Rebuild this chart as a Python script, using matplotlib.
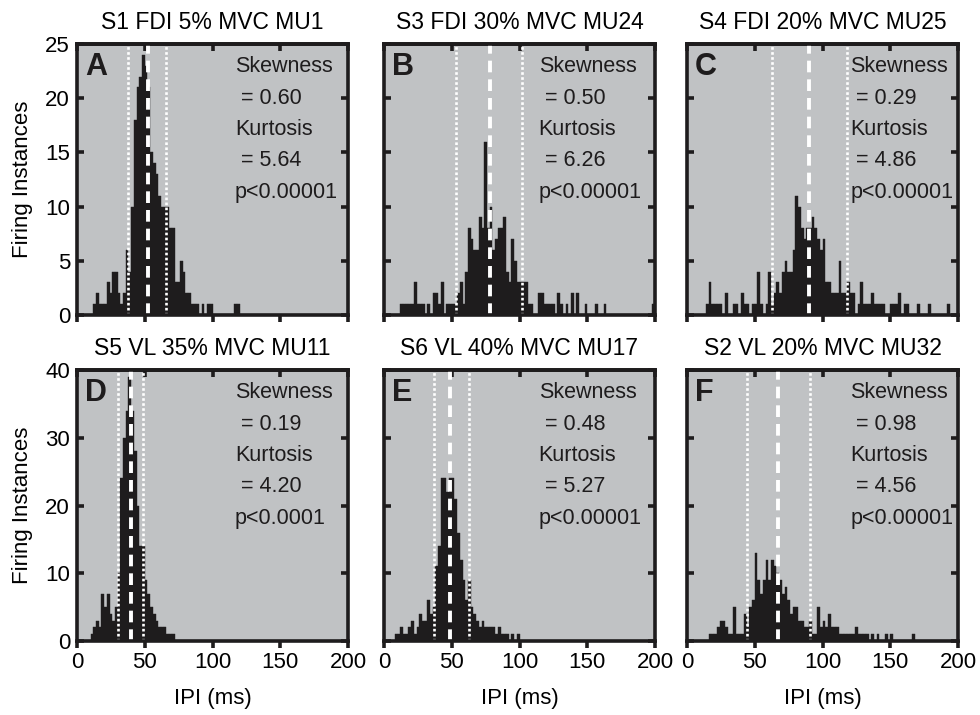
import numpy as np
import matplotlib
matplotlib.use('Agg')
from matplotlib import pyplot as plt

plt.rcParams['font.family'] = ['Liberation Sans', 'DejaVu Sans']

# panel info
titles = ['S1 FDI 5% MVC MU1', 'S3 FDI 30% MVC MU24', 'S4 FDI 20% MVC MU25',
          'S5 VL 35% MVC MU11', 'S6 VL 40% MVC MU17', 'S2 VL 20% MVC MU32']
letters = ['A', 'B', 'C', 'D', 'E', 'F']
skew = ['0.60', '0.50', '0.29', '0.19', '0.48', '0.98']
kurt = ['5.64', '6.26', '4.86', '4.20', '5.27', '4.56']
pvals = ['p<0.00001', 'p<0.00001', 'p<0.00001', 'p<0.0001', 'p<0.00001', 'p<0.00001']

# white reference lines (ms)
dot_lo = [38, 53, 63, 30.5, 37, 44]
dash_mid = [52.5, 78, 90, 40, 49, 67.5]
dot_hi = [66, 102, 118, 49, 62.5, 90.5]

# histogram counts, 2 ms bins, first bin edge in *_start
a_start = 12
a_counts = [1, 2, 1, 1, 1, 3, 2, 4, 4, 2,
            1, 2, 6, 4, 10, 18, 21, 22, 24, 23,
            21, 15, 14, 13, 11, 10, 10, 10, 8, 8,
            3, 3, 5, 4, 2, 2, 1, 1, 1, 0,
            1, 0, 1, 1, 0, 0, 0, 0, 0, 0,
            0, 0, 1, 1]
b_start = 12
b_counts = [1, 1, 1, 1, 1, 3, 1, 1, 1, 0,
            1, 0, 2, 2, 1, 3, 0, 1, 1, 1,
            1, 2, 3, 1, 4, 8, 7, 6, 6, 9,
            8, 16, 8, 10, 6, 7, 8, 8, 9, 4,
            3, 7, 5, 3, 3, 3, 3, 1, 1, 0,
            0, 2, 2, 1, 1, 1, 1, 0, 2, 1,
            0, 1, 0, 2, 0, 2, 0, 0, 1, 0,
            0, 0, 1, 0, 0, 1, 0, 0, 0, 0,
            0, 0, 0, 0, 0, 0, 0, 0, 0, 0,
            0, 0, 0, 1]
c_start = 14
c_counts = [1, 3, 1, 1, 1, 1, 0, 2, 0, 0,
            1, 1, 0, 2, 1, 1, 0, 1, 1, 4,
            1, 0, 1, 4, 1, 2, 3, 2, 4, 5,
            4, 4, 6, 11, 10, 8, 7, 8, 8, 9,
            8, 7, 6, 7, 3, 3, 2, 2, 2, 5,
            2, 2, 3, 2, 2, 0, 1, 3, 1, 1,
            1, 2, 1, 1, 1, 1, 0, 0, 1, 1,
            1, 2, 0, 1, 1, 0, 0, 0, 1, 0,
            0, 0, 1, 0, 0, 0, 0, 0, 0, 1]
d_start = 10
d_counts = [1, 2, 3, 2, 7, 5, 7, 4, 3, 5,
            10, 24, 30, 34, 39, 34, 28, 20, 14, 14,
            9, 7, 5, 4, 3, 2, 2, 2, 1, 1, 1]
e_start = 8
e_counts = [1, 1, 2, 1, 1, 2, 3, 1, 2, 4,
            3, 3, 6, 4, 5, 11, 14, 24, 24, 22,
            24, 24, 21, 16, 12, 9, 6, 9, 5, 4,
            3, 2, 3, 2, 2, 2, 2, 1, 2, 1,
            1, 1, 0, 1, 0, 1]
f_start = 16
f_counts = [1, 1, 1, 2, 3, 3, 2, 1, 1, 5,
            1, 1, 1, 4, 2, 5, 6, 13, 9, 7,
            9, 12, 9, 12, 11, 10, 9, 7, 8, 6,
            4, 5, 5, 3, 3, 2, 2, 3, 1, 1,
            5, 2, 3, 2, 4, 2, 2, 2, 1, 1,
            1, 1, 1, 1, 2, 1, 1, 1, 1, 0,
            1, 0, 1, 0, 0, 1, 0, 1, 0, 0,
            0, 0, 0, 0, 0, 1]

starts = [a_start, b_start, c_start, d_start, e_start, f_start]
counts = [a_counts, b_counts, c_counts, d_counts, e_counts, f_counts]
ymax = [25, 25, 25, 40, 40, 40]
yticks = [[0, 5, 10, 15, 20, 25], [0, 10, 20, 30, 40]]
xticks = [0, 50, 100, 150, 200]

bg = '#c0c2c4'
ink = '#1e1c1d'
fs = 15.5

fig = plt.figure(figsize=(9.8, 7.15), dpi=100)
lefts = [77, 384, 687]
tops = [44, 370]
W, H = 271, 271

for i in range(6):
    r, c = divmod(i, 3)
    ax = fig.add_axes([lefts[c] / 980, 1 - (tops[r] + H) / 715, W / 980, H / 715])
    ax.set_facecolor(bg)
    edges = starts[i] + 2 * np.arange(len(counts[i]))
    ax.bar(edges, counts[i], width=2, align='edge', color=ink,
           edgecolor=ink, linewidth=0.3, zorder=2)
    ax.axvline(dot_lo[i], color='white', lw=1.9, ls=(0, (1, 0.9)), zorder=3)
    ax.axvline(dot_hi[i], color='white', lw=1.9, ls=(0, (1, 0.9)), zorder=3)
    ax.axvline(dash_mid[i], color='white', lw=2.8, ls=(0, (3, 1.8)), zorder=3)
    ax.set_xlim(0, 200)
    ax.set_ylim(0, ymax[i])
    ax.set_xticks(xticks)
    ax.set_yticks(yticks[r])
    for s in ax.spines.values():
        s.set_linewidth(2.6)
        s.set_color(ink)
        s.set_zorder(5)
    ax.tick_params(axis='y', direction='in', left=True, right=True,
                   length=5, width=2.6, color=ink, labelsize=16, pad=5)
    ax.tick_params(axis='x', direction='out', length=5, width=2.6,
                   color=ink, labelsize=16, pad=3)
    top = ax.secondary_xaxis('top')
    top.set_xticks(xticks)
    top.tick_params(direction='in', length=5, width=2.6, color=ink, labeltop=False)
    top.spines['top'].set_linewidth(2.6)
    if r == 0:
        ax.tick_params(labelbottom=False)
    else:
        ax.set_xlabel('IPI (ms)', fontsize=16, labelpad=11)
    if c != 0:
        ax.tick_params(labelleft=False)
    else:
        ax.set_ylabel('Firing Instances', fontsize=16, labelpad=9)
    ax.set_title(titles[i], fontsize=16.5, pad=11)

    ax.text(0.03, 0.885, letters[i], transform=ax.transAxes, fontsize=22,
            fontweight='bold', color=ink, va='baseline', zorder=6)
    tx = [0.583, 0.571, 0.603][c]
    lines = ['Skewness', ' = ' + skew[i], 'Kurtosis', ' = ' + kurt[i], pvals[i]]
    for k, t in enumerate(lines):
        ax.text(tx, 0.896 - k * 0.116, t, transform=ax.transAxes, fontsize=fs,
                color=ink, va='baseline', zorder=6)

fig.savefig('out.png', dpi=100)
